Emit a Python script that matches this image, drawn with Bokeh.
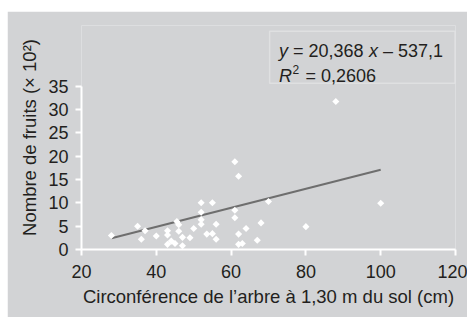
import math
from bokeh.plotting import figure
from bokeh.models import Range1d, FixedTicker, Label, BoxAnnotation, Spacer
from bokeh.layouts import column, row
from bokeh.embed import file_html
from bokeh.resources import INLINE

# ---- data ----
circumference = [28, 35, 36, 37, 40, 43, 43, 43, 44, 45, 45.5, 46, 46, 47, 47,
                 49, 50, 52, 52, 52, 52, 53.5, 55, 55, 56, 56, 61, 61, 61, 62,
                 62, 62, 63, 64, 67, 68, 70, 80, 88, 100]
fruits = [3.0, 5.0, 2.2, 4.0, 2.9, 4.0, 3.1, 1.1, 1.8, 1.3, 6.0, 5.3, 3.9, 2.6, 0.8,
          2.5, 4.5, 10.0, 8.0, 6.4, 5.4, 3.3, 3.4, 10.0, 5.4, 2.2, 18.8, 8.4, 6.8, 15.7,
          3.3, 1.1, 1.3, 4.5, 2.0, 5.7, 10.3, 4.9, 31.7, 9.9]
trend_x = [28, 100]
trend_y = [2.4, 17.1]
x_ticks = [20, 40, 60, 80, 100, 120]
y_ticks = [0, 5, 10, 15, 20, 25, 30, 35]
x_title = "Circonférence de l\u2019arbre à 1,30 m du sol (cm)"
y_title = "Nombre de fruits (× 10²)"

BG = "#d2d3d5"
TXT = "#231f20"
FONT = "Liberation Sans"

p = figure(width=460, height=306, output_backend="svg", toolbar_location=None,
           x_range=Range1d(20, 120), y_range=Range1d(0, 48),
           min_border_left=74, min_border_right=12, min_border_top=14, min_border_bottom=68)
p.background_fill_color = BG
p.border_fill_color = BG
p.outline_line_color = None
p.grid.visible = False

for ax, ticks in ((p.xaxis, x_ticks), (p.yaxis, y_ticks)):
    ax.ticker = FixedTicker(ticks=ticks)
    ax.axis_line_color = "white"
    ax.axis_line_width = 2
    ax.major_tick_line_color = "white"
    ax.major_tick_line_width = 2
    ax.major_tick_in = 0
    ax.major_tick_out = 6
    ax.minor_tick_line_color = None
    ax.major_label_text_font = FONT
    ax.major_label_text_font_size = "18px"
    ax.major_label_text_color = TXT
    ax.axis_label_text_font = FONT
    ax.axis_label_text_font_size = "18.5px"
    ax.axis_label_text_font_style = "normal"
    ax.axis_label_text_color = TXT

p.xaxis.bounds = (20, 120)
p.yaxis.bounds = (0, 35)
p.xaxis.axis_label = x_title
p.yaxis.axis_label = y_title
p.xaxis.major_label_standoff = 9
p.yaxis.major_label_standoff = 7
p.xaxis.axis_label_standoff = 5
p.yaxis.axis_label_standoff = 5

p.line(trend_x, trend_y, line_color="#6e6e6e", line_width=2)
p.scatter(circumference, fruits, marker="square", angle=math.pi / 4, size=5,
          fill_color="white", line_color=None)

# equation box (above the plotted data)
p.add_layout(BoxAnnotation(left=70.3, right=119.87, top=46.78, bottom=35.63,
                           fill_color=None, line_color="white", line_width=1.5))

def lab(text, x, y, dx=0, dy=0, style="normal", size="18px"):
    p.add_layout(Label(x=x, y=y, x_offset=dx, y_offset=dy, text=text,
                       text_font=FONT, text_font_size=size, text_font_style=style,
                       text_color=TXT, text_baseline="alphabetic", text_align="left"))

EX, L1, L2 = 72.8, 42.5, 37.1
lab("y", EX, L1, 0, style="italic")
lab("= 20,368", EX, L1, 14)
lab("x", EX, L1, 90, style="italic")
lab("– 537,1", EX, L1, 104)
lab("R", EX, L2, 0, style="italic")
lab("2", EX, L2, 13.5, 7, size="12px")
lab("= 0,2606", EX, L2, 26.5)

layout = row(Spacer(width=7, height=317), column(Spacer(height=11, width=460), p))
open("out.html", "w").write(file_html(layout, INLINE))
